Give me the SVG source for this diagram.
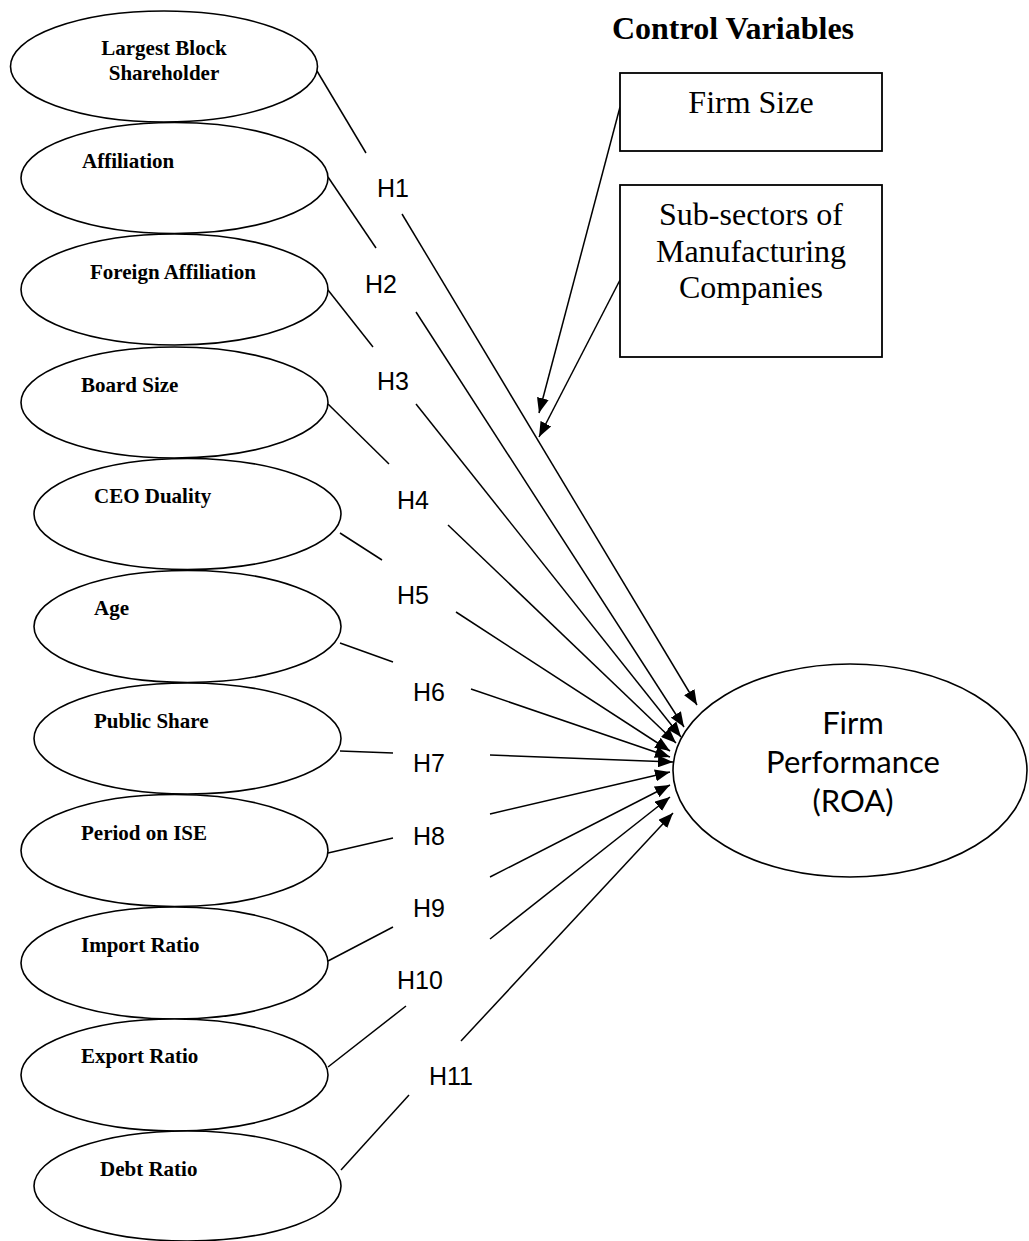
<svg xmlns="http://www.w3.org/2000/svg" width="1029" height="1241" viewBox="0 0 1029 1241">
<style>
.ell{fill:#fff;stroke:#000;stroke-width:1.6}
.box{fill:#fff;stroke:#000;stroke-width:1.8}
.lbl{font-family:"Liberation Serif","Times New Roman",serif;font-weight:bold;font-size:21px;fill:#000}
.ctl{font-family:"Liberation Serif","Times New Roman",serif;font-size:32px;fill:#000;text-anchor:middle}
.h{font-family:"Liberation Sans",Arial,sans-serif;font-size:25px;fill:#000}
.fp{font-family:Lato,"Noto Sans",sans-serif;font-size:31px;fill:#000;text-anchor:middle}
.ln{stroke:#000;stroke-width:1.5;fill:none}
.ar{stroke:#000;stroke-width:1.5;fill:none;marker-end:url(#arr)}
</style>
<defs>
<marker id="arr" markerWidth="15" markerHeight="12" refX="15" refY="6" orient="auto" markerUnits="userSpaceOnUse">
<path d="M0,0 L15,6 L0,12 z" fill="#000"/>
</marker>
</defs>
<rect width="1029" height="1241" fill="#fff"/>

<g id="connectors">
<path class="ln" d="M317,71 L366,153"/>
<path class="ln" d="M328,177 L376,248"/>
<path class="ln" d="M328,290 L373,347"/>
<path class="ln" d="M328,404 L389,464"/>
<path class="ln" d="M340,533 L382,560"/>
<path class="ln" d="M340,643 L393,662"/>
<path class="ln" d="M340,751 L393,753"/>
<path class="ln" d="M328,853 L393,838"/>
<path class="ln" d="M328,961 L393,927"/>
<path class="ln" d="M328,1067 L406,1006"/>
<path class="ln" d="M341,1170 L409,1095"/>
<path class="ar" d="M402,214 L697,705"/>
<path class="ar" d="M416,312 L684,727"/>
<path class="ar" d="M416,404 L681,737"/>
<path class="ar" d="M448,525 L676,743"/>
<path class="ar" d="M456,612 L670,751"/>
<path class="ar" d="M471,689 L670,757"/>
<path class="ar" d="M490,755 L673,762"/>
<path class="ar" d="M490,814 L670,772"/>
<path class="ar" d="M490,877 L670,785"/>
<path class="ar" d="M490,939 L670,797"/>
<path class="ar" d="M461,1041 L673,813"/>
<path class="ar" d="M620,107 L539,413"/>
<path class="ar" d="M620,280 L539,437"/>
</g>

<g id="hlabels">
<text class="h" x="377" y="197">H1</text>
<text class="h" x="365" y="293">H2</text>
<text class="h" x="377" y="390">H3</text>
<text class="h" x="397" y="509">H4</text>
<text class="h" x="397" y="604">H5</text>
<text class="h" x="413" y="701">H6</text>
<text class="h" x="413" y="772">H7</text>
<text class="h" x="413" y="845">H8</text>
<text class="h" x="413" y="917">H9</text>
<text class="h" x="397" y="989">H10</text>
<text class="h" x="429" y="1085">H11</text>
</g>

<g id="n-largest"><ellipse class="ell" cx="164" cy="66.5" rx="153.5" ry="55.5"/>
<text class="lbl" x="164" y="55" text-anchor="middle">Largest Block</text>
<text class="lbl" x="164" y="80" text-anchor="middle">Shareholder</text></g>
<g id="n-affiliation"><ellipse class="ell" cx="174.5" cy="178" rx="153.5" ry="55.5"/>
<text class="lbl" x="82" y="168">Affiliation</text></g>
<g id="n-foreign"><ellipse class="ell" cx="174.5" cy="289.5" rx="153.5" ry="55.5"/>
<text class="lbl" x="90" y="279">Foreign Affiliation</text></g>
<g id="n-board"><ellipse class="ell" cx="174.5" cy="402.5" rx="153.5" ry="55.5"/>
<text class="lbl" x="81" y="392">Board Size</text></g>
<g id="n-ceo"><ellipse class="ell" cx="187.5" cy="514" rx="153.5" ry="55.5"/>
<text class="lbl" x="94" y="503">CEO Duality</text></g>
<g id="n-age"><ellipse class="ell" cx="187.5" cy="626.5" rx="153.5" ry="56"/>
<text class="lbl" x="94" y="615">Age</text></g>
<g id="n-public"><ellipse class="ell" cx="187.5" cy="738.5" rx="153.5" ry="55.5"/>
<text class="lbl" x="94" y="728">Public Share</text></g>
<g id="n-period"><ellipse class="ell" cx="174.5" cy="850.5" rx="153.5" ry="56"/>
<text class="lbl" x="81" y="840">Period on ISE</text></g>
<g id="n-import"><ellipse class="ell" cx="174.5" cy="963" rx="153.5" ry="56"/>
<text class="lbl" x="81" y="952">Import Ratio</text></g>
<g id="n-export"><ellipse class="ell" cx="174.5" cy="1075" rx="153.5" ry="56"/>
<text class="lbl" x="81" y="1063">Export Ratio</text></g>
<g id="n-debt"><ellipse class="ell" cx="187.5" cy="1186" rx="153.5" ry="55"/>
<text class="lbl" x="100" y="1176">Debt Ratio</text></g>

<g id="n-control-title">
<text class="ctl" x="733" y="39" font-weight="bold">Control Variables</text></g>
<g id="n-firmsize"><rect class="box" x="620" y="73" width="262" height="78"/>
<text class="ctl" x="751" y="113">Firm Size</text></g>
<g id="n-subsectors"><rect class="box" x="620" y="185" width="262" height="172"/>
<text class="ctl" x="751" y="225">Sub-sectors of</text>
<text class="ctl" x="751" y="262">Manufacturing</text>
<text class="ctl" x="751" y="298">Companies</text></g>

<g id="n-performance"><ellipse class="ell" cx="850" cy="770.5" rx="177" ry="106.5"/>
<text class="fp" x="853" y="734">Firm</text>
<text class="fp" x="853" y="773">Performance</text>
<text class="fp" x="853" y="812">(ROA)</text></g>
</svg>
